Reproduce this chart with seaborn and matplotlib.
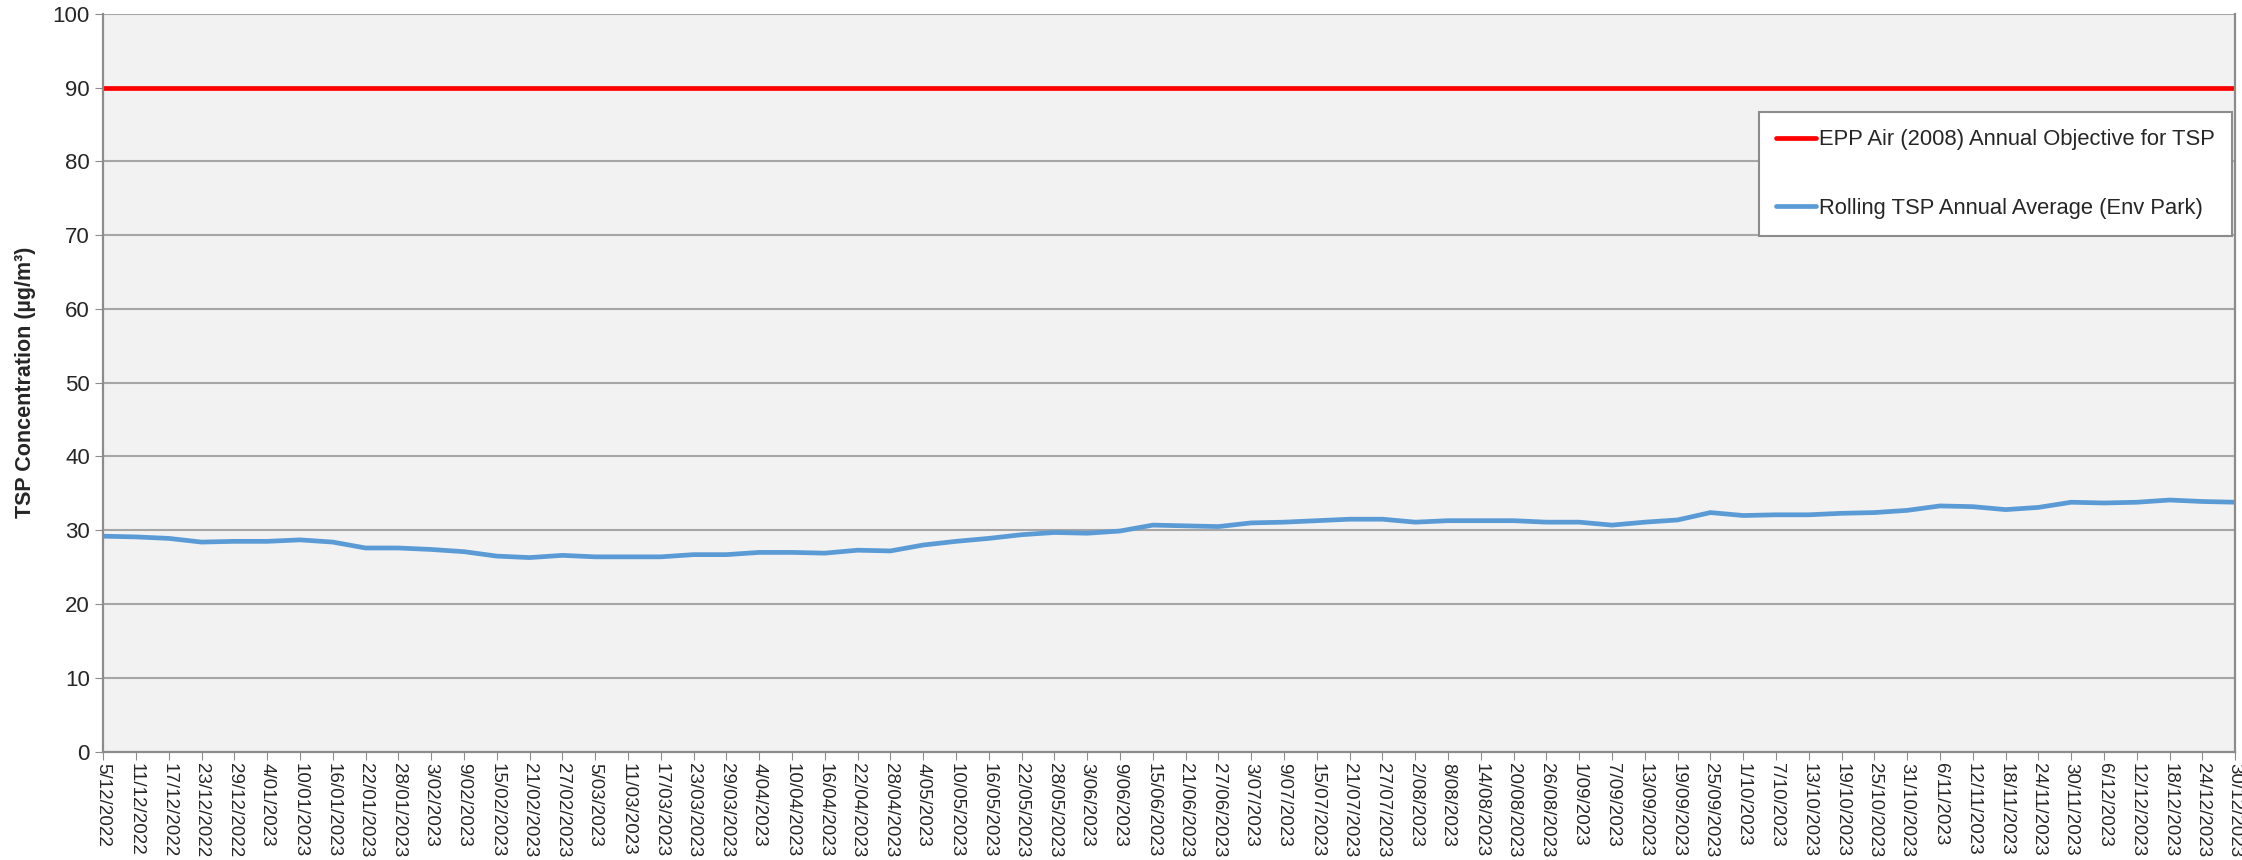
import pandas as pd
import matplotlib
matplotlib.use("Agg")
import matplotlib.pyplot as plt
import seaborn as sns

# sampling dates (every 6 days) shown on the category axis
dates = pd.date_range("2022-12-05", "2023-12-30", freq="6D")
date_labels = [f"{d.day}/{d.month:02d}/{d.year}" for d in dates]

# rolling annual average TSP (ug/m3)
rolling_tsp = [
    29.2, 29.1, 28.9, 28.4, 28.5, 28.5, 28.7, 28.4, 27.6, 27.6,
    27.4, 27.1, 26.5, 26.3, 26.6, 26.4, 26.4, 26.4, 26.7, 26.7,
    27.0, 27.0, 26.9, 27.3, 27.2, 28.0, 28.5, 28.9, 29.4, 29.7,
    29.6, 29.9, 30.7, 30.6, 30.5, 31.0, 31.1, 31.3, 31.5, 31.5,
    31.1, 31.3, 31.3, 31.3, 31.1, 31.1, 30.7, 31.1, 31.4, 32.4,
    32.0, 32.1, 32.1, 32.3, 32.4, 32.7, 33.3, 33.2, 32.8, 33.1,
    33.8, 33.7, 33.8, 34.1, 33.9, 33.8,
]
objective_level = 90

df = pd.DataFrame({
    "pos": range(len(date_labels)),
    "date": date_labels,
    "rolling": rolling_tsp,
    "objective": [objective_level] * len(date_labels),
})

sns.set_style("white")
plt.rcParams["font.family"] = ["Liberation Sans", "DejaVu Sans"]

fig = plt.figure(figsize=(22.42, 8.6), dpi=100)
ax = fig.add_axes([0.046, 0.126, 0.951, 0.858])
ax.set_facecolor("#f2f2f2")

sns.lineplot(data=df, x="pos", y="objective", ax=ax, color="#ff0000", linewidth=3.4,
             label="EPP Air (2008) Annual Objective for TSP")
sns.lineplot(data=df, x="pos", y="rolling", ax=ax, color="#5b9bd5", linewidth=3.4,
             label="Rolling TSP Annual Average (Env Park)")

ax.set_xlim(0, len(date_labels) - 1)
ax.set_ylim(0, 100)
ax.set_yticks(range(0, 101, 10))
ax.set_xticks(df["pos"])
ax.set_xticklabels(df["date"], rotation=-90, fontsize=13.5)
ax.tick_params(axis="y", labelsize=16, length=6, color="#8c8c8c", direction="out", left=True)
ax.tick_params(axis="x", length=6, color="#8c8c8c", direction="out", bottom=True, pad=2)
ax.yaxis.grid(True, color="#a6a6a6", linewidth=1.5)
ax.set_axisbelow(True)
for s in ax.spines.values():
    s.set_color("#8c8c8c")
    s.set_linewidth(1.6)
ax.spines["top"].set_visible(False)

ax.set_xlabel("")
ax.set_ylabel("TSP Concentration (µg/m³)", fontsize=15.5, fontweight="bold", labelpad=12)

leg = ax.legend(loc="upper right", bbox_to_anchor=(0.9986, 0.867), fontsize=15.8,
                frameon=True, fancybox=False, edgecolor="#8c8c8c", facecolor="white",
                framealpha=1, labelspacing=2.15, handlelength=1.8, handletextpad=0.15,
                borderpad=0.8, borderaxespad=0)
leg.get_frame().set_linewidth(1.5)

fig.savefig("out.png", dpi=100)
